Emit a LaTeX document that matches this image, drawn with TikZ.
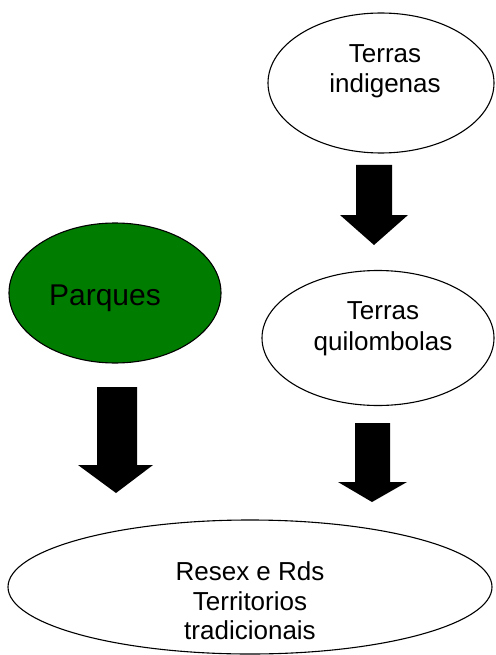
\documentclass[tikz,border=0pt]{standalone}
\usepackage{fontspec}
\setmainfont{Liberation Sans}
\usetikzlibrary{shapes.geometric}
\definecolor{parkgreen}{RGB}{0,125,0}
\begin{document}
\begin{tikzpicture}[x=1pt,y=-1pt,
  ell/.style={draw=black, line width=1.1pt, shape=ellipse, inner sep=0pt},
  lbl/.style={font=\fontsize{26}{30}\selectfont, anchor=base, inner sep=0pt},
  blockarrow/.style={fill=black}]
\useasboundingbox (0,0) rectangle (495,655);
% ellipses
\node[ell, minimum width=226, minimum height=140] (ind) at (381,83) {};
\node[ell, minimum width=232, minimum height=135] (quil) at (378,338) {};
\node[ell, fill=parkgreen, minimum width=212, minimum height=140] (parq) at (115,293) {};
\node[ell, minimum width=484, minimum height=134] (res) at (250,587) {};
% labels
\node[lbl] (ind1) at (385,63) {Terras};
\node[lbl] (ind2) at (385,93) {indigenas};
\node[lbl] (quil1) at (383,319) {Terras};
\node[lbl] (quil2) at (383,350) {quilombolas};
\node[lbl, font=\fontsize{30}{34}\selectfont] (parq1) at (105,305) {Parques};
\node[lbl] (res1) at (250,580) {Resex e Rds};
\node[lbl] (res2) at (250,610) {Territorios};
\node[lbl] (res3) at (250,639) {tradicionais};
% block arrows
\fill[blockarrow] (356,165) -- (392,165) -- (392,215) -- (408,215) -- (374,245) -- (340,215) -- (356,215) -- cycle;
\fill[blockarrow] (97,387) -- (137,387) -- (137,465) -- (153,465) -- (116,493) -- (78,465) -- (97,465) -- cycle;
\fill[blockarrow] (355,423) -- (390,423) -- (390,482) -- (407,482) -- (372,502) -- (338,482) -- (355,482) -- cycle;
\end{tikzpicture}
\end{document}
